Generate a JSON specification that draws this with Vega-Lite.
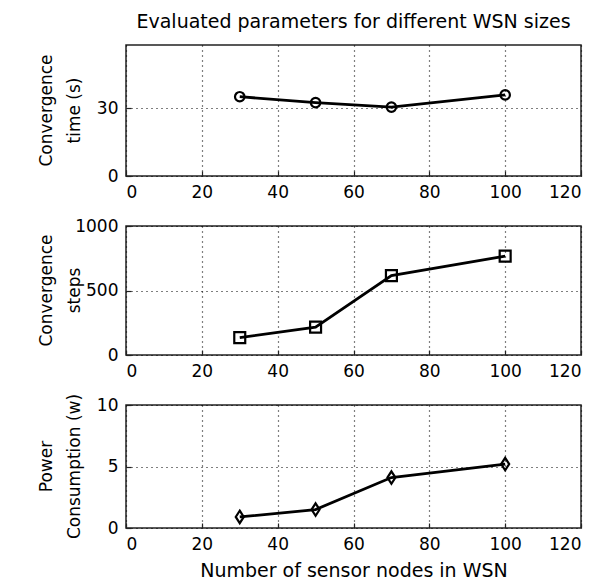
{
  "$schema": "https://vega.github.io/schema/vega-lite/v6.json",
  "background": "white",
  "padding": {"left": 36, "top": 13, "right": 5, "bottom": 0},
  "title": {"text": "Evaluated parameters for different WSN sizes", "fontSize": 19, "fontWeight": "normal", "font": "DejaVu Sans", "color": "black", "anchor": "middle", "frame": "group", "offset": 12},
  "spacing": 50,
  "bounds": "flush",
  "config": {
    "font": "DejaVu Sans",
    "view": {"stroke": "#222", "strokeWidth": 1.5},
    "axis": {
      "domain": false,
      "ticks": true,
      "tickSize": -5,
      "tickColor": "#222",
      "tickWidth": 1.2,
      "labelFont": "DejaVu Sans",
      "labelFontSize": 17,
      "labelColor": "black",
      "labelPadding": 13,
      "titleFont": "DejaVu Sans",
      "titleFontSize": 19,
      "titleFontWeight": "normal",
      "titleColor": "black",
      "grid": true,
      "gridColor": "black",
      "gridDash": [1, 4],
      "gridWidth": 1.2,
      "gridOpacity": 1
    },
    "axisY": {"titleAngle": -90, "titleAlign": "center", "titleBaseline": "bottom", "titleFontSize": 17, "titleLineHeight": 28, "titleX": -71, "format": "d"}
  },
  "datasets": {
    "wsn": [
      {"n": 30, "time": 35.1, "steps": 135, "power": 0.9},
      {"n": 50, "time": 32.5, "steps": 216, "power": 1.5},
      {"n": 70, "time": 30.5, "steps": 615, "power": 4.1},
      {"n": 100, "time": 35.9, "steps": 766, "power": 5.2}
    ]
  },
  "vconcat": [
    {
      "width": 455,
      "height": 131,
      "data": {"name": "wsn"},
      "encoding": {
        "x": {"field": "n", "type": "quantitative", "scale": {"domain": [0, 120], "nice": false}, "axis": {"values": [0, 20, 40, 60, 80, 100, 120], "title": null}},
        "y": {"field": "time", "type": "quantitative", "scale": {"domain": [0, 58], "nice": false, "zero": true}, "axis": {"values": [0, 30], "title": ["Convergence", "time (s)"], "titleY": 65}}
      },
      "layer": [
        {"mark": {"type": "line", "color": "black", "strokeWidth": 2.8}},
        {"mark": {"type": "point", "shape": "circle", "filled": false, "stroke": "black", "strokeWidth": 2.2, "size": 90, "opacity": 1}}
      ]
    },
    {
      "width": 455,
      "height": 129,
      "data": {"name": "wsn"},
      "encoding": {
        "x": {"field": "n", "type": "quantitative", "scale": {"domain": [0, 120], "nice": false}, "axis": {"values": [0, 20, 40, 60, 80, 100, 120], "title": null}},
        "y": {"field": "steps", "type": "quantitative", "scale": {"domain": [0, 1000], "nice": false}, "axis": {"values": [0, 500, 1000], "title": ["Convergence", "steps"], "titleY": 64}}
      },
      "layer": [
        {"mark": {"type": "line", "color": "black", "strokeWidth": 2.8}},
        {"mark": {"type": "point", "shape": "square", "filled": false, "stroke": "black", "strokeWidth": 2.2, "size": 120, "opacity": 1}}
      ]
    },
    {
      "width": 455,
      "height": 123,
      "data": {"name": "wsn"},
      "encoding": {
        "x": {"field": "n", "type": "quantitative", "scale": {"domain": [0, 120], "nice": false}, "axis": {"values": [0, 20, 40, 60, 80, 100, 120], "title": "Number of sensor nodes in WSN", "titlePadding": 9}},
        "y": {"field": "power", "type": "quantitative", "scale": {"domain": [0, 10], "nice": false}, "axis": {"values": [0, 5, 10], "title": ["Power", "Consumption (w)"], "titleY": 61}}
      },
      "layer": [
        {"mark": {"type": "line", "color": "black", "strokeWidth": 2.8}},
        {"mark": {"type": "point", "shape": "M0,-1.25L0.8,0L0,1.25L-0.8,0Z", "filled": false, "stroke": "black", "strokeWidth": 2.2, "size": 100, "opacity": 1}}
      ]
    }
  ]
}
